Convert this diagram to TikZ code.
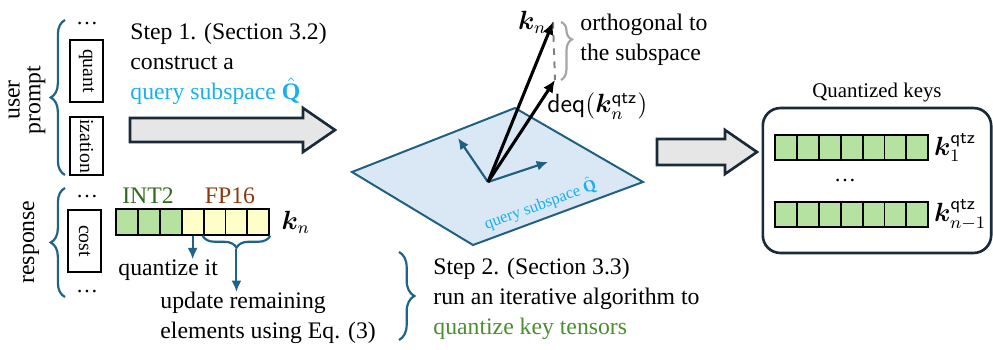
\documentclass[tikz,border=0pt]{standalone}
\usepackage{amsmath,amssymb,bm}
\usepackage{fontspec}
\setmainfont{Liberation Serif}
\usepackage{xcolor}
\usepackage{tikz}
\usetikzlibrary{arrows.meta,positioning,calc,decorations.pathreplacing}
\definecolor{braceblue}{HTML}{1F6388}
\definecolor{edgeteal}{HTML}{1F5F7F}
\definecolor{planeblue}{HTML}{DAE8F5}
\definecolor{intgreen}{HTML}{B5E2A0}
\definecolor{fpyellow}{HTML}{FEFEC8}
\definecolor{cyantext}{HTML}{19B0EB}
\definecolor{intlabel}{HTML}{2F6B1F}
\definecolor{fplabel}{HTML}{8B3A0F}
\definecolor{greentext}{HTML}{4A8F2F}
\definecolor{arrowfill}{HTML}{E6E6E6}
\definecolor{arrowedge}{HTML}{1B2A38}
\tikzset{
  plaintext/.style={font=\fontsize{10.8}{13.6}\selectfont,align=left,inner sep=0pt},
  tokenbox/.style={draw=black,line width=1pt,rotate=-90,inner sep=1pt,
    minimum width=28pt,minimum height=15pt,font=\fontsize{9}{10}\selectfont},
  keycell/.style={draw=black,line width=0.9pt,minimum width=9.97pt,minimum height=11.6pt,
    inner sep=0pt},
  bluebrace/.style={decorate,decoration={brace,amplitude=6.5pt},draw=braceblue,line width=1pt},
  smallarrow/.style={-{Latex[length=1.8mm,width=1.6mm]},draw=braceblue,line width=0.9pt},
  vecarrow/.style={-{Latex[length=2mm,width=1.8mm]},line width=1.4pt},
  basisarrow/.style={-{Latex[length=1.8mm,width=1.6mm]},draw=edgeteal,line width=1pt},
  bigarrow/.style={fill=arrowfill,draw=arrowedge,line width=1.2pt,line join=miter},
  keylabel/.style={font=\fontsize{12}{14}\selectfont,inner sep=0pt}
}

\begin{document}
\begin{tikzpicture}[x=0.016cm,y=-0.016cm]
  \useasboundingbox (0,0) rectangle (993,350);

  % prompt and response tokens
  \node[plaintext,font=\fontsize{10.8}{9.5}\selectfont,align=center,rotate=90] (user) at (27,100) {user\\prompt};
  \node[plaintext,rotate=90] (resp) at (31,242) {response};
  \draw[bluebrace] (65,175) -- (65,20);
  \draw[bluebrace] (65,297) -- (65,188);
  \node[inner sep=0pt] (dtop) at (87,24) {\dots};
  \node[tokenbox,minimum width=28pt] (quant) at (86.5,71) {quant};
  \node[tokenbox,minimum width=26.4pt] (izat) at (86.5,146) {ization};
  \node[inner sep=0pt] (dmid) at (87,197) {\dots};
  \node[tokenbox] (cost) at (84.5,241) {cost};
  \node[inner sep=0pt] (dbot) at (87,292) {\dots};

  % step 1
  \node[plaintext,anchor=west] (step1) at (130,64)
    {Step 1. (Section 3.2)\\construct a\\\textcolor{cyantext}{query subspace $\hat{\mathbf{Q}}$}};
  \draw[bigarrow] (130,118) -- (303,118) -- (303,108) -- (335,130) -- (303,152)
    -- (303,142) -- (130,142) -- cycle;

  % key being quantized
  \foreach \i/\col in {0/intgreen,1/intgreen,2/intgreen,3/fpyellow,4/fpyellow,5/fpyellow,6/fpyellow}
    \node[keycell,fill=\col] (c\i) at ({116+21.9*(\i+0.5)},222) {};
  \node[plaintext,text=intlabel] (int2) at (148,196) {INT2};
  \node[plaintext,text=fplabel] (fp16) at (230,196) {FP16};
  \node[keylabel,right=5pt of c6] (kn) {$\bm{k}_n$};
  \node[plaintext,anchor=west] (qit) at (118,270) {quantize it};
  \draw[smallarrow] (c3.south) -- (c3.south |- qit.north);
  \draw[bluebrace,decoration={mirror,amplitude=5.5pt}] (c4.south west) -- (c6.south east);
  \coordinate (fpb) at ($(c4.south west)!0.5!(c6.south east)+(0,13)$);
  \node[plaintext,anchor=west] (upd) at (160,318) {update remaining\\elements using Eq. (3)};
  \draw[smallarrow] (fpb) -- (fpb |- upd.north);

  % step 2
  \draw[bluebrace,decoration={amplitude=7pt}] (399,252) -- (399,340);
  \node[plaintext,anchor=west] (step2) at (433,299)
    {Step 2. (Section 3.3)\\run an iterative algorithm to\\\textcolor{greentext}{quantize key tensors}};

  % query subspace plane
  \draw[draw=edgeteal,fill=planeblue,line width=0.9pt] (352,172) coordinate (pl) -- (515,108) coordinate (pt)
    -- (643,182) coordinate (pr) -- (473,245) coordinate (pb) -- cycle;
  \node[font=\fontsize{7.5}{9}\selectfont,text=cyantext,rotate=20,inner sep=0pt] (qlab) at (540,204)
    {query subspace $\hat{\mathbf{Q}}$};
  \coordinate (O) at (488,182);
  \coordinate (b1) at (458,138);
  \coordinate (b2) at (548,162);
  \coordinate (ktip) at (553,22);
  \coordinate (dtip) at (555,80);
  \draw[basisarrow] (O) -- (b1);
  \draw[basisarrow] (O) -- (b2);
  \draw[gray,dashed,line width=0.9pt] (ktip) -- (dtip);
  \draw[vecarrow] (O) -- (ktip);
  \draw[vecarrow] (O) -- (dtip);
  \node[keylabel,anchor=east] (knlab) at ($(ktip)+(-6,0)$) {$\bm{k}_n$};
  \node[keylabel,anchor=west] (deqlab) at (547,106) {$\mathsf{deq}(\bm{k}_n^{\mathsf{qtz}})$};
  \draw[gray!70,line width=1pt,decorate,decoration={brace,amplitude=5pt,aspect=0.3}] (561,22) -- (561,80);
  \node[plaintext,anchor=west] (orth) at (580,40) {orthogonal to\\the subspace};

  % quantized keys
  \draw[bigarrow] (657,139) -- (725,139) -- (725,130) -- (757,152) -- (725,174)
    -- (725,165) -- (657,165) -- cycle;
  \node[draw=arrowedge,line width=1.2pt,rounded corners=8pt,minimum width=104pt,
    minimum height=66pt] (qbox) at (877,180.5) {};
  \node[plaintext,font=\fontsize{9.5}{11}\selectfont,above=2pt of qbox] (qtitle) {Quantized keys};
  \foreach \i in {0,...,6} {
    \node[keycell,fill=intgreen] (r\i) at ({775+21.9*(\i+0.5)},147.5) {};
    \node[keycell,fill=intgreen] (s\i) at ({775+21.9*(\i+0.5)},214.5) {};
  }
  \node[keylabel,right=2pt of r6] (k1) {$\bm{k}_1^{\mathsf{qtz}}$};
  \node[keylabel,right=2pt of s6] (kn1) {$\bm{k}_{n-1}^{\mathsf{qtz}}$};
  \node[inner sep=0pt] (qdots) at (845,181) {\dots};
\end{tikzpicture}
\end{document}
